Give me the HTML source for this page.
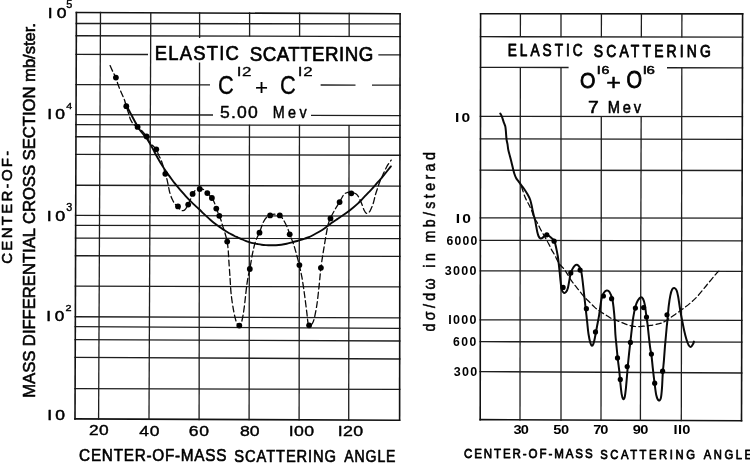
<!DOCTYPE html>
<html><head><meta charset="utf-8"><style>
html,body{margin:0;padding:0;background:#fff;width:750px;height:464px;overflow:hidden;font-family:"Liberation Sans",sans-serif}
svg{display:block;will-change:transform}
</style></head><body>
<svg width="750" height="464" viewBox="0 0 750 464">
<rect width="750" height="464" fill="#fff"/>
<line x1="75.60" y1="12.44" x2="400.90" y2="13.78" stroke="#121212" stroke-width="1.6"/>
<line x1="75.56" y1="23.48" x2="400.89" y2="23.93" stroke="#1e1e1e" stroke-width="1.3"/>
<line x1="75.52" y1="35.77" x2="400.87" y2="36.55" stroke="#1e1e1e" stroke-width="1.3"/>
<line x1="75.46" y1="54.38" x2="148.00" y2="54.50" stroke="#1e1e1e" stroke-width="1.3"/>
<line x1="378.30" y1="54.89" x2="400.85" y2="54.93" stroke="#1e1e1e" stroke-width="1.3"/>
<line x1="75.35" y1="84.68" x2="210.00" y2="84.86" stroke="#1e1e1e" stroke-width="1.3"/>
<line x1="320.60" y1="85.02" x2="355.50" y2="85.06" stroke="#1e1e1e" stroke-width="1.3"/>
<line x1="372.00" y1="85.09" x2="400.81" y2="85.13" stroke="#1e1e1e" stroke-width="1.3"/>
<line x1="75.25" y1="114.55" x2="213.00" y2="114.98" stroke="#1e1e1e" stroke-width="1.3"/>
<line x1="311.00" y1="115.28" x2="400.77" y2="115.56" stroke="#1e1e1e" stroke-width="1.3"/>
<line x1="75.21" y1="124.56" x2="400.76" y2="125.45" stroke="#1e1e1e" stroke-width="1.3"/>
<line x1="75.17" y1="136.77" x2="400.75" y2="137.44" stroke="#1e1e1e" stroke-width="1.3"/>
<line x1="75.11" y1="154.36" x2="400.72" y2="155.25" stroke="#1e1e1e" stroke-width="1.3"/>
<line x1="75.00" y1="185.26" x2="400.69" y2="186.15" stroke="#1e1e1e" stroke-width="1.3"/>
<line x1="74.90" y1="215.47" x2="400.65" y2="216.03" stroke="#1e1e1e" stroke-width="1.3"/>
<line x1="74.87" y1="225.38" x2="400.64" y2="225.72" stroke="#1e1e1e" stroke-width="1.3"/>
<line x1="74.82" y1="238.18" x2="400.62" y2="238.52" stroke="#1e1e1e" stroke-width="1.3"/>
<line x1="74.76" y1="255.77" x2="400.60" y2="256.33" stroke="#1e1e1e" stroke-width="1.3"/>
<line x1="74.66" y1="286.17" x2="400.56" y2="286.84" stroke="#1e1e1e" stroke-width="1.3"/>
<line x1="74.55" y1="316.74" x2="400.52" y2="317.97" stroke="#1e1e1e" stroke-width="1.3"/>
<line x1="74.52" y1="326.72" x2="400.51" y2="328.40" stroke="#1e1e1e" stroke-width="1.3"/>
<line x1="74.47" y1="339.53" x2="400.50" y2="340.98" stroke="#1e1e1e" stroke-width="1.3"/>
<line x1="74.41" y1="357.32" x2="400.47" y2="358.99" stroke="#1e1e1e" stroke-width="1.3"/>
<line x1="74.30" y1="388.56" x2="400.44" y2="389.45" stroke="#1e1e1e" stroke-width="1.3"/>
<line x1="74.20" y1="418.84" x2="400.40" y2="420.18" stroke="#121212" stroke-width="1.6"/>
<line x1="76.40" y1="11.64" x2="75.00" y2="419.64" stroke="#121212" stroke-width="1.6"/>
<line x1="100.50" y1="11.74" x2="98.59" y2="419.74" stroke="#1e1e1e" stroke-width="1.3"/>
<line x1="150.80" y1="11.95" x2="148.99" y2="419.94" stroke="#1e1e1e" stroke-width="1.3"/>
<line x1="400.10" y1="12.97" x2="399.60" y2="420.97" stroke="#121212" stroke-width="1.6"/>
<line x1="199.60" y1="12.15" x2="199.57" y2="38.06" stroke="#1e1e1e" stroke-width="1.3"/>
<line x1="199.54" y1="62.50" x2="199.10" y2="420.15" stroke="#1e1e1e" stroke-width="1.3"/>
<line x1="249.60" y1="12.36" x2="249.57" y2="36.48" stroke="#1e1e1e" stroke-width="1.3"/>
<line x1="249.46" y1="124.74" x2="249.10" y2="420.35" stroke="#1e1e1e" stroke-width="1.3"/>
<line x1="299.60" y1="12.56" x2="299.57" y2="36.60" stroke="#1e1e1e" stroke-width="1.3"/>
<line x1="299.46" y1="124.87" x2="299.10" y2="420.56" stroke="#1e1e1e" stroke-width="1.3"/>
<line x1="349.20" y1="12.77" x2="349.17" y2="36.72" stroke="#1e1e1e" stroke-width="1.3"/>
<line x1="349.06" y1="125.01" x2="348.70" y2="420.76" stroke="#1e1e1e" stroke-width="1.3"/>
<line x1="479.80" y1="13.70" x2="743.40" y2="13.90" stroke="#121212" stroke-width="1.6"/>
<line x1="479.78" y1="36.70" x2="743.34" y2="37.20" stroke="#1e1e1e" stroke-width="1.3"/>
<line x1="479.75" y1="67.30" x2="568.60" y2="67.50" stroke="#1e1e1e" stroke-width="1.3"/>
<line x1="667.00" y1="67.73" x2="743.25" y2="67.90" stroke="#1e1e1e" stroke-width="1.3"/>
<line x1="479.70" y1="116.30" x2="743.12" y2="116.70" stroke="#1e1e1e" stroke-width="1.3"/>
<line x1="479.68" y1="138.90" x2="743.06" y2="139.30" stroke="#1e1e1e" stroke-width="1.3"/>
<line x1="479.65" y1="170.20" x2="742.98" y2="170.50" stroke="#1e1e1e" stroke-width="1.3"/>
<line x1="479.60" y1="217.80" x2="742.85" y2="218.10" stroke="#1e1e1e" stroke-width="1.3"/>
<line x1="479.58" y1="240.40" x2="742.78" y2="240.80" stroke="#1e1e1e" stroke-width="1.3"/>
<line x1="479.55" y1="270.90" x2="742.70" y2="271.30" stroke="#1e1e1e" stroke-width="1.3"/>
<line x1="479.50" y1="319.80" x2="742.57" y2="320.30" stroke="#1e1e1e" stroke-width="1.3"/>
<line x1="479.48" y1="341.70" x2="742.51" y2="342.20" stroke="#1e1e1e" stroke-width="1.3"/>
<line x1="479.45" y1="371.59" x2="742.43" y2="373.00" stroke="#1e1e1e" stroke-width="1.3"/>
<line x1="479.40" y1="419.59" x2="742.30" y2="420.70" stroke="#121212" stroke-width="1.6"/>
<line x1="480.60" y1="12.90" x2="480.20" y2="420.40" stroke="#121212" stroke-width="1.6"/>
<line x1="742.60" y1="13.10" x2="741.50" y2="421.50" stroke="#121212" stroke-width="1.6"/>
<line x1="520.40" y1="12.93" x2="520.38" y2="37.08" stroke="#1e1e1e" stroke-width="1.3"/>
<line x1="520.35" y1="67.09" x2="520.00" y2="420.56" stroke="#1e1e1e" stroke-width="1.3"/>
<line x1="561.00" y1="12.96" x2="561.00" y2="37.15" stroke="#1e1e1e" stroke-width="1.3"/>
<line x1="561.00" y1="67.18" x2="561.00" y2="420.74" stroke="#1e1e1e" stroke-width="1.3"/>
<line x1="681.90" y1="13.05" x2="681.86" y2="37.38" stroke="#1e1e1e" stroke-width="1.3"/>
<line x1="681.82" y1="67.46" x2="681.30" y2="421.24" stroke="#1e1e1e" stroke-width="1.3"/>
<line x1="601.40" y1="12.99" x2="601.38" y2="37.23" stroke="#1e1e1e" stroke-width="1.3"/>
<line x1="601.30" y1="116.18" x2="601.00" y2="420.91" stroke="#1e1e1e" stroke-width="1.3"/>
<line x1="641.40" y1="13.02" x2="641.34" y2="37.31" stroke="#1e1e1e" stroke-width="1.3"/>
<line x1="641.15" y1="116.25" x2="640.40" y2="421.07" stroke="#1e1e1e" stroke-width="1.3"/>
<path d="M126.00,104.50 C126.42,105.33 127.50,107.58 128.50,109.50 C129.50,111.42 130.92,113.95 132.00,116.00 C133.08,118.05 134.07,120.08 135.00,121.80 C135.93,123.52 136.88,125.05 137.60,126.30 C138.32,127.55 138.30,127.90 139.30,129.30 C140.30,130.70 142.38,133.20 143.60,134.70 C144.82,136.20 145.58,136.87 146.60,138.30 C147.62,139.73 148.77,141.75 149.70,143.30 C150.63,144.85 151.38,146.12 152.20,147.60 C153.02,149.08 153.77,150.63 154.60,152.20 C155.43,153.77 156.20,155.20 157.20,157.00 C158.20,158.80 159.45,161.10 160.60,163.00 C161.75,164.90 162.95,166.63 164.10,168.40 C165.25,170.17 166.35,171.95 167.50,173.60 C168.65,175.25 169.85,176.75 171.00,178.30 C172.15,179.85 173.25,181.42 174.40,182.90 C175.55,184.38 176.75,185.82 177.90,187.20 C179.05,188.58 180.12,189.85 181.30,191.20 C182.48,192.55 183.72,193.90 185.00,195.30 C186.28,196.70 187.67,198.22 189.00,199.60 C190.33,200.98 191.75,202.38 193.00,203.60 C194.25,204.82 195.33,205.83 196.50,206.90 C197.67,207.97 198.85,208.92 200.00,210.00 C201.15,211.08 202.25,212.30 203.40,213.40 C204.55,214.50 205.75,215.55 206.90,216.60 C208.05,217.65 209.15,218.68 210.30,219.70 C211.45,220.72 212.65,221.77 213.80,222.70 C214.95,223.63 216.05,224.47 217.20,225.30 C218.35,226.13 219.55,226.92 220.70,227.70 C221.85,228.48 222.95,229.25 224.10,230.00 C225.25,230.75 226.45,231.52 227.60,232.20 C228.75,232.88 229.85,233.47 231.00,234.10 C232.15,234.73 233.35,235.43 234.50,236.00 C235.65,236.57 236.58,236.92 237.90,237.50 C239.22,238.08 241.12,238.95 242.40,239.50 C243.68,240.05 244.45,240.37 245.60,240.80 C246.75,241.23 248.05,241.70 249.30,242.10 C250.55,242.50 251.77,242.88 253.10,243.20 C254.43,243.52 255.88,243.75 257.30,244.00 C258.72,244.25 260.17,244.52 261.60,244.70 C263.03,244.88 264.48,245.00 265.90,245.10 C267.32,245.20 268.42,245.28 270.10,245.30 C271.78,245.32 274.13,245.30 276.00,245.20 C277.87,245.10 279.52,244.95 281.30,244.70 C283.08,244.45 284.92,244.10 286.70,243.70 C288.48,243.30 290.23,242.75 292.00,242.30 C293.77,241.85 295.52,241.50 297.30,241.00 C299.08,240.50 300.92,239.88 302.70,239.30 C304.48,238.72 306.23,238.22 308.00,237.50 C309.77,236.78 311.52,235.92 313.30,235.00 C315.08,234.08 316.92,233.05 318.70,232.00 C320.48,230.95 322.37,229.82 324.00,228.70 C325.63,227.58 327.27,226.23 328.50,225.30 C329.73,224.37 330.02,224.08 331.40,223.10 C332.78,222.12 335.00,220.62 336.80,219.40 C338.60,218.18 340.40,217.03 342.20,215.80 C344.00,214.57 345.80,213.35 347.60,212.00 C349.40,210.65 351.22,209.18 353.00,207.70 C354.78,206.22 356.80,204.50 358.30,203.10 C359.80,201.70 360.97,200.37 362.00,199.30 C363.03,198.23 363.37,197.88 364.50,196.70 C365.63,195.52 367.37,193.72 368.80,192.20 C370.23,190.68 371.67,189.18 373.10,187.60 C374.53,186.02 375.97,184.32 377.40,182.70 C378.83,181.08 380.27,179.60 381.70,177.90 C383.13,176.20 384.57,174.30 386.00,172.50 C387.43,170.70 389.48,168.12 390.30,167.10 C391.12,166.08 390.80,166.52 390.90,166.40" fill="none" stroke="#0a0a0a" stroke-width="1.9" stroke-linecap="round" stroke-linejoin="round"/>
<path d="M110.10,65.60 C110.57,66.63 111.93,69.80 112.90,71.80 C113.87,73.80 115.03,75.43 115.90,77.60 C116.77,79.77 117.30,82.53 118.10,84.80 C118.90,87.07 119.88,89.27 120.70,91.20 C121.52,93.13 122.35,94.88 123.00,96.40 C123.65,97.92 124.05,98.65 124.60,100.30 C125.15,101.95 125.63,104.12 126.30,106.30 C126.97,108.48 127.90,111.20 128.60,113.40 C129.30,115.60 129.68,117.70 130.50,119.50 C131.32,121.30 132.32,122.97 133.50,124.20 C134.68,125.43 136.10,125.68 137.60,126.90 C139.10,128.12 141.00,129.92 142.50,131.50 C144.00,133.08 145.55,134.82 146.60,136.40 C147.65,137.98 147.87,139.57 148.80,141.00 C149.73,142.43 150.95,143.62 152.20,145.00 C153.45,146.38 155.22,147.58 156.30,149.30 C157.38,151.02 157.93,153.60 158.70,155.30 C159.47,157.00 160.22,157.88 160.90,159.50 C161.58,161.12 162.07,162.60 162.80,165.00 C163.53,167.40 164.63,171.65 165.30,173.90 C165.97,176.15 166.30,176.57 166.80,178.50 C167.30,180.43 167.82,183.20 168.30,185.50 C168.78,187.80 169.07,190.03 169.70,192.30 C170.33,194.57 171.22,197.15 172.10,199.10 C172.98,201.05 174.02,202.72 175.00,204.00 C175.98,205.28 177.10,205.83 178.00,206.80 C178.90,207.77 179.52,209.17 180.40,209.80 C181.28,210.43 182.42,210.77 183.30,210.60 C184.18,210.43 184.88,209.82 185.70,208.80 C186.52,207.78 187.38,206.12 188.20,204.50 C189.02,202.88 189.88,200.85 190.60,199.10 C191.32,197.35 191.70,195.45 192.50,194.00 C193.30,192.55 194.22,191.27 195.40,190.40 C196.58,189.53 198.25,188.95 199.60,188.80 C200.95,188.65 202.22,188.78 203.50,189.50 C204.78,190.22 205.90,191.68 207.30,193.10 C208.70,194.52 210.70,196.35 211.90,198.00 C213.10,199.65 213.77,201.23 214.50,203.00 C215.23,204.77 215.50,206.47 216.30,208.60 C217.10,210.73 218.50,213.82 219.30,215.80 C220.10,217.78 220.55,218.85 221.10,220.50 C221.65,222.15 222.02,223.83 222.60,225.70 C223.18,227.57 224.07,229.98 224.60,231.70 C225.13,233.42 225.37,234.35 225.80,236.00 C226.23,237.65 226.80,239.27 227.20,241.60 C227.60,243.93 227.93,246.93 228.20,250.00 C228.47,253.07 228.50,255.47 228.80,260.00 C229.10,264.53 229.60,271.45 230.00,277.20 C230.40,282.95 230.57,288.75 231.20,294.50 C231.83,300.25 232.93,307.10 233.80,311.70 C234.67,316.30 235.48,319.72 236.40,322.10 C237.32,324.48 238.43,326.00 239.30,326.00 C240.17,326.00 240.80,325.05 241.60,322.10 C242.40,319.15 243.25,314.33 244.10,308.30 C244.95,302.27 245.98,291.37 246.70,285.90 C247.42,280.43 247.88,278.32 248.40,275.50 C248.92,272.68 249.10,272.72 249.80,269.00 C250.50,265.28 251.65,257.78 252.60,253.20 C253.55,248.62 254.37,244.93 255.50,241.50 C256.63,238.07 258.10,235.82 259.40,232.60 C260.70,229.38 262.00,224.85 263.30,222.20 C264.60,219.55 266.07,217.87 267.20,216.70 C268.33,215.53 268.82,215.62 270.10,215.20 C271.38,214.78 273.28,214.20 274.90,214.20 C276.52,214.20 278.35,214.20 279.80,215.20 C281.25,216.20 282.32,218.07 283.60,220.20 C284.88,222.33 286.48,225.65 287.50,228.00 C288.52,230.35 288.73,231.72 289.70,234.30 C290.67,236.88 292.22,240.35 293.30,243.50 C294.38,246.65 295.20,249.58 296.20,253.20 C297.20,256.82 298.35,261.20 299.30,265.20 C300.25,269.20 301.03,272.32 301.90,277.20 C302.77,282.08 303.70,288.75 304.50,294.50 C305.30,300.25 306.13,307.10 306.70,311.70 C307.27,316.30 307.50,319.78 307.90,322.10 C308.30,324.42 308.23,325.60 309.10,325.60 C309.97,325.60 311.85,325.27 313.10,322.10 C314.35,318.93 315.60,312.63 316.60,306.60 C317.60,300.57 318.38,292.37 319.10,285.90 C319.82,279.43 320.18,273.58 320.90,267.80 C321.62,262.02 322.50,256.87 323.40,251.20 C324.30,245.53 325.50,238.30 326.30,233.80 C327.10,229.30 327.53,226.78 328.20,224.20 C328.87,221.62 329.13,220.82 330.30,218.30 C331.47,215.78 333.67,211.80 335.20,209.10 C336.73,206.40 338.07,204.52 339.50,202.10 C340.93,199.68 342.45,196.22 343.80,194.60 C345.15,192.98 346.35,192.78 347.60,192.40 C348.85,192.02 349.87,192.03 351.30,192.30 C352.73,192.57 354.85,193.00 356.20,194.00 C357.55,195.00 358.42,196.50 359.40,198.30 C360.38,200.10 361.33,202.85 362.10,204.80 C362.87,206.75 363.30,208.60 364.00,210.00 C364.70,211.40 365.55,212.77 366.30,213.20 C367.05,213.63 367.83,213.05 368.50,212.60 C369.17,212.15 369.52,212.02 370.30,210.50 C371.08,208.98 372.33,206.17 373.20,203.50 C374.07,200.83 374.73,197.17 375.50,194.50 C376.27,191.83 377.13,189.50 377.80,187.50 C378.47,185.50 378.88,184.08 379.50,182.50 C380.12,180.92 380.77,179.67 381.50,178.00 C382.23,176.33 383.05,174.33 383.90,172.50 C384.75,170.67 385.70,168.62 386.60,167.00 C387.50,165.38 388.53,163.95 389.30,162.80 C390.07,161.65 390.88,160.55 391.20,160.10" fill="none" stroke="#0a0a0a" stroke-width="1.3" stroke-linecap="round" stroke-linejoin="round" stroke-dasharray="6,3.2"/>
<circle cx="115.9" cy="77.6" r="2.9" fill="#000"/>
<circle cx="126.3" cy="106.2" r="2.9" fill="#000"/>
<circle cx="137.6" cy="126.9" r="2.9" fill="#000"/>
<circle cx="146.6" cy="136.4" r="2.9" fill="#000"/>
<circle cx="156.3" cy="149.3" r="2.9" fill="#000"/>
<circle cx="165.3" cy="173.8" r="2.9" fill="#000"/>
<circle cx="178.0" cy="206.4" r="2.9" fill="#000"/>
<circle cx="188.2" cy="204.6" r="2.9" fill="#000"/>
<circle cx="192.6" cy="193.9" r="2.9" fill="#000"/>
<circle cx="199.7" cy="189.0" r="2.9" fill="#000"/>
<circle cx="207.3" cy="193.1" r="2.9" fill="#000"/>
<circle cx="211.9" cy="198.0" r="2.9" fill="#000"/>
<circle cx="216.3" cy="208.6" r="2.9" fill="#000"/>
<circle cx="219.3" cy="215.8" r="2.9" fill="#000"/>
<circle cx="227.2" cy="241.6" r="2.9" fill="#000"/>
<circle cx="239.3" cy="325.6" r="2.9" fill="#000"/>
<circle cx="249.8" cy="269.0" r="2.9" fill="#000"/>
<circle cx="259.5" cy="232.7" r="2.9" fill="#000"/>
<circle cx="270.1" cy="215.4" r="2.9" fill="#000"/>
<circle cx="279.8" cy="215.4" r="2.9" fill="#000"/>
<circle cx="289.7" cy="234.3" r="2.9" fill="#000"/>
<circle cx="299.4" cy="265.1" r="2.9" fill="#000"/>
<circle cx="309.1" cy="325.3" r="2.9" fill="#000"/>
<circle cx="320.9" cy="267.8" r="2.9" fill="#000"/>
<circle cx="330.5" cy="218.4" r="2.9" fill="#000"/>
<circle cx="339.6" cy="202.1" r="2.9" fill="#000"/>
<circle cx="351.3" cy="193.3" r="2.9" fill="#000"/>
<path d="M500.30,113.60 C500.57,114.10 501.35,115.23 501.90,116.60 C502.45,117.97 503.05,120.22 503.60,121.80 C504.15,123.38 504.83,124.67 505.20,126.10 C505.57,127.53 505.63,128.82 505.80,130.40 C505.97,131.98 506.07,134.02 506.20,135.60 C506.33,137.18 506.38,138.47 506.60,139.90 C506.82,141.33 507.22,142.53 507.50,144.20 C507.78,145.87 507.92,147.98 508.30,149.90 C508.68,151.82 509.30,153.77 509.80,155.70 C510.30,157.63 510.82,159.57 511.30,161.50 C511.78,163.43 512.22,165.35 512.70,167.30 C513.18,169.25 513.63,171.42 514.20,173.20 C514.77,174.98 515.38,176.63 516.10,178.00 C516.82,179.37 517.68,180.27 518.50,181.40 C519.32,182.53 520.08,183.57 521.00,184.80 C521.92,186.03 522.97,187.30 524.00,188.80 C525.03,190.30 526.18,192.02 527.20,193.80 C528.22,195.58 529.37,197.58 530.10,199.50 C530.83,201.42 531.18,203.52 531.60,205.30 C532.02,207.08 532.25,208.58 532.60,210.20 C532.95,211.82 533.30,213.38 533.70,215.00 C534.10,216.62 534.62,218.23 535.00,219.90 C535.38,221.57 535.62,222.98 536.00,225.00 C536.38,227.02 536.87,230.13 537.30,232.00 C537.73,233.87 538.10,235.15 538.60,236.20 C539.10,237.25 539.65,238.02 540.30,238.30 C540.95,238.58 541.78,238.32 542.50,237.90 C543.22,237.48 543.88,236.37 544.60,235.80 C545.32,235.23 546.00,234.43 546.80,234.50 C547.60,234.57 548.53,235.55 549.40,236.20 C550.27,236.85 551.22,237.68 552.00,238.40 C552.78,239.12 553.53,239.50 554.10,240.50 C554.67,241.50 554.97,242.75 555.40,244.40 C555.83,246.05 556.27,248.22 556.70,250.40 C557.13,252.58 557.63,255.03 558.00,257.50 C558.37,259.97 558.60,262.55 558.90,265.20 C559.20,267.85 559.50,270.53 559.80,273.40 C560.10,276.27 560.38,279.68 560.70,282.40 C561.02,285.12 561.17,287.97 561.70,289.70 C562.23,291.43 563.17,292.43 563.90,292.80 C564.63,293.17 565.43,292.72 566.10,291.90 C566.77,291.08 567.37,289.78 567.90,287.90 C568.43,286.02 568.85,282.95 569.30,280.60 C569.75,278.25 570.07,275.75 570.60,273.80 C571.13,271.85 571.82,270.25 572.50,268.90 C573.18,267.55 573.95,266.38 574.70,265.70 C575.45,265.02 576.25,264.65 577.00,264.80 C577.75,264.95 578.52,265.62 579.20,266.60 C579.88,267.58 580.63,269.12 581.10,270.70 C581.57,272.28 581.70,274.00 582.00,276.10 C582.30,278.20 582.52,279.95 582.90,283.30 C583.28,286.65 583.83,291.95 584.30,296.20 C584.77,300.45 585.23,304.60 585.70,308.80 C586.17,313.00 586.63,317.20 587.10,321.40 C587.57,325.60 587.95,330.40 588.50,334.00 C589.05,337.60 589.82,341.03 590.40,343.00 C590.98,344.97 591.50,345.67 592.00,345.80 C592.50,345.93 592.93,345.07 593.40,343.80 C593.87,342.53 594.22,341.00 594.80,338.20 C595.38,335.40 596.20,330.73 596.90,327.00 C597.60,323.27 598.42,319.30 599.00,315.80 C599.58,312.30 599.93,309.03 600.40,306.00 C600.87,302.97 601.22,299.82 601.80,297.60 C602.38,295.38 603.08,293.87 603.90,292.70 C604.72,291.53 605.77,290.72 606.70,290.60 C607.63,290.48 608.57,290.60 609.50,292.00 C610.43,293.40 611.60,296.20 612.30,299.00 C613.00,301.80 613.30,305.30 613.70,308.80 C614.10,312.30 614.42,315.72 614.70,320.00 C614.98,324.28 615.08,330.00 615.40,334.50 C615.72,339.00 616.20,342.90 616.60,347.00 C617.00,351.10 617.35,355.07 617.80,359.10 C618.25,363.13 618.87,367.17 619.30,371.20 C619.73,375.23 620.02,379.53 620.40,383.30 C620.78,387.07 621.15,391.20 621.60,393.80 C622.05,396.40 622.60,398.27 623.10,398.90 C623.60,399.53 624.15,399.20 624.60,397.60 C625.05,396.00 625.42,392.70 625.80,389.30 C626.18,385.90 626.55,381.22 626.90,377.20 C627.25,373.18 627.53,369.22 627.90,365.20 C628.27,361.18 628.70,356.87 629.10,353.10 C629.50,349.33 629.85,346.58 630.30,342.60 C630.75,338.62 631.30,333.45 631.80,329.20 C632.30,324.95 632.68,320.87 633.30,317.10 C633.92,313.33 634.75,309.35 635.50,306.60 C636.25,303.85 636.92,302.17 637.80,300.60 C638.68,299.03 639.92,297.47 640.80,297.20 C641.68,296.93 642.42,297.68 643.10,299.00 C643.78,300.32 644.40,302.58 644.90,305.10 C645.40,307.62 645.65,310.83 646.10,314.10 C646.55,317.37 647.15,321.05 647.60,324.70 C648.05,328.35 648.37,332.12 648.80,336.00 C649.23,339.88 649.75,344.75 650.20,348.00 C650.65,351.25 651.07,352.13 651.50,355.50 C651.93,358.87 652.32,363.82 652.80,368.20 C653.28,372.58 653.82,377.28 654.40,381.80 C654.98,386.32 655.60,392.20 656.30,395.30 C657.00,398.40 657.85,399.90 658.60,400.40 C659.35,400.90 660.23,400.40 660.80,398.30 C661.37,396.20 661.67,392.07 662.00,387.80 C662.33,383.53 662.48,377.23 662.80,372.70 C663.12,368.17 663.55,364.87 663.90,360.60 C664.25,356.33 664.55,351.37 664.90,347.10 C665.25,342.83 665.68,338.52 666.00,335.00 C666.32,331.48 666.55,328.55 666.80,326.00 C667.05,323.45 667.18,323.02 667.50,319.70 C667.82,316.38 668.23,310.12 668.70,306.10 C669.17,302.08 669.73,298.37 670.30,295.60 C670.87,292.83 671.43,290.77 672.10,289.50 C672.77,288.23 673.55,287.87 674.30,288.00 C675.05,288.13 675.97,288.92 676.60,290.30 C677.23,291.68 677.60,293.67 678.10,296.30 C678.60,298.93 679.10,302.95 679.60,306.10 C680.10,309.25 680.60,312.43 681.10,315.20 C681.60,317.97 682.10,320.18 682.60,322.70 C683.10,325.22 683.47,327.53 684.10,330.30 C684.73,333.07 685.63,336.80 686.40,339.30 C687.17,341.80 687.95,344.03 688.70,345.30 C689.45,346.57 690.15,347.15 690.90,346.90 C691.65,346.65 692.70,344.68 693.20,343.80 C693.70,342.92 693.78,341.97 693.90,341.60" fill="none" stroke="#0a0a0a" stroke-width="2.0" stroke-linecap="round" stroke-linejoin="round"/>
<path d="M521.50,186.50 C522.05,188.18 523.77,193.95 524.80,196.60 C525.83,199.25 526.88,200.78 527.70,202.40 C528.52,204.02 528.98,204.78 529.70,206.30 C530.42,207.82 531.28,209.65 532.00,211.50 C532.72,213.35 533.18,215.65 534.00,217.40 C534.82,219.15 535.98,220.37 536.90,222.00 C537.82,223.63 538.57,225.40 539.50,227.20 C540.43,229.00 541.43,230.87 542.50,232.80 C543.57,234.73 544.82,236.87 545.90,238.80 C546.98,240.73 548.07,242.60 549.00,244.40 C549.93,246.20 550.57,247.87 551.50,249.60 C552.43,251.33 553.73,253.22 554.60,254.80 C555.47,256.38 556.05,257.82 556.70,259.10 C557.35,260.38 557.83,261.43 558.50,262.50 C559.17,263.57 559.80,264.43 560.70,265.50 C561.60,266.57 562.92,267.67 563.90,268.90 C564.88,270.13 565.40,271.02 566.60,272.90 C567.80,274.78 569.75,278.17 571.10,280.20 C572.45,282.23 573.35,283.37 574.70,285.10 C576.05,286.83 577.72,288.75 579.20,290.60 C580.68,292.45 581.93,294.33 583.60,296.20 C585.27,298.07 587.33,299.93 589.20,301.80 C591.07,303.67 592.93,305.77 594.80,307.40 C596.67,309.03 598.53,310.32 600.40,311.60 C602.27,312.88 604.13,313.93 606.00,315.10 C607.87,316.27 609.97,317.75 611.60,318.60 C613.23,319.45 614.08,319.53 615.80,320.20 C617.52,320.87 619.87,321.80 621.90,322.60 C623.93,323.40 625.73,324.35 628.00,325.00 C630.27,325.65 632.98,326.30 635.50,326.50 C638.02,326.70 640.58,326.38 643.10,326.20 C645.62,326.02 648.08,325.78 650.60,325.40 C653.12,325.02 656.30,324.33 658.20,323.90 C660.10,323.47 660.45,323.50 662.00,322.80 C663.55,322.10 665.32,321.10 667.50,319.70 C669.68,318.30 672.58,316.17 675.10,314.40 C677.62,312.63 680.08,310.98 682.60,309.10 C685.12,307.22 687.72,305.25 690.20,303.10 C692.68,300.95 694.67,299.30 697.50,296.20 C700.33,293.10 703.97,288.38 707.20,284.50 C710.43,280.62 714.97,275.12 716.90,272.90 C718.83,270.68 718.48,271.48 718.80,271.20" fill="none" stroke="#0a0a0a" stroke-width="1.25" stroke-linecap="round" stroke-linejoin="round" stroke-dasharray="5.5,3.2"/>
<circle cx="546.8" cy="234.8" r="2.6" fill="#000"/>
<circle cx="554.1" cy="241.2" r="2.6" fill="#000"/>
<circle cx="563.1" cy="287.4" r="2.6" fill="#000"/>
<circle cx="570.8" cy="272.9" r="2.6" fill="#000"/>
<circle cx="580.1" cy="270.1" r="2.6" fill="#000"/>
<circle cx="586.4" cy="308.7" r="2.6" fill="#000"/>
<circle cx="595.5" cy="331.9" r="2.6" fill="#000"/>
<circle cx="603.4" cy="296.0" r="2.6" fill="#000"/>
<circle cx="611.6" cy="298.7" r="2.6" fill="#000"/>
<circle cx="617.5" cy="357.9" r="2.6" fill="#000"/>
<circle cx="620.3" cy="379.4" r="2.6" fill="#000"/>
<circle cx="627.2" cy="366.6" r="2.6" fill="#000"/>
<circle cx="630.4" cy="342.4" r="2.6" fill="#000"/>
<circle cx="635.4" cy="308.1" r="2.6" fill="#000"/>
<circle cx="643.6" cy="307.6" r="2.6" fill="#000"/>
<circle cx="646.5" cy="317.1" r="2.6" fill="#000"/>
<circle cx="651.4" cy="354.1" r="2.6" fill="#000"/>
<circle cx="654.7" cy="383.2" r="2.6" fill="#000"/>
<circle cx="662.6" cy="371.2" r="2.6" fill="#000"/>
<circle cx="667.0" cy="314.8" r="2.6" fill="#000"/>
<text x="0" y="0" font-family="Liberation Sans" font-size="14.588" font-weight="normal" stroke="#000" stroke-width="0.55" stroke-linejoin="round" vector-effect="non-scaling-stroke" textLength="15.640" lengthAdjust="spacing" transform="translate(47.750,17.500) scale(1.2000,1)" fill="#000">I0</text>
<text x="0" y="0" font-family="Liberation Sans" font-size="10.081" font-weight="normal" stroke="#000" stroke-width="0.4" stroke-linejoin="round" vector-effect="non-scaling-stroke" transform="translate(66.250,7.850) scale(1.0825,1)" fill="#000">5</text>
<text x="0" y="0" font-family="Liberation Sans" font-size="14.587" font-weight="normal" stroke="#000" stroke-width="0.55" stroke-linejoin="round" vector-effect="non-scaling-stroke" textLength="14.908" lengthAdjust="spacing" transform="translate(47.150,119.200) scale(1.2000,1)" fill="#000">I0</text>
<text x="0" y="0" font-family="Liberation Sans" font-size="9.045" font-weight="normal" stroke="#000" stroke-width="0.4" stroke-linejoin="round" vector-effect="non-scaling-stroke" transform="translate(66.200,108.500) scale(1.1737,1)" fill="#000">4</text>
<text x="0" y="0" font-family="Liberation Sans" font-size="14.938" font-weight="normal" stroke="#000" stroke-width="0.55" stroke-linejoin="round" vector-effect="non-scaling-stroke" textLength="15.361" lengthAdjust="spacing" transform="translate(46.850,220.750) scale(1.2000,1)" fill="#000">I0</text>
<text x="0" y="0" font-family="Liberation Sans" font-size="10.076" font-weight="normal" stroke="#000" stroke-width="0.4" stroke-linejoin="round" vector-effect="non-scaling-stroke" transform="translate(66.250,211.450) scale(1.0686,1)" fill="#000">3</text>
<text x="0" y="0" font-family="Liberation Sans" font-size="14.244" font-weight="normal" stroke="#000" stroke-width="0.55" stroke-linejoin="round" vector-effect="non-scaling-stroke" textLength="15.051" lengthAdjust="spacing" transform="translate(46.150,321.250) scale(1.2000,1)" fill="#000">I0</text>
<text x="0" y="0" font-family="Liberation Sans" font-size="9.729" font-weight="normal" stroke="#000" stroke-width="0.4" stroke-linejoin="round" vector-effect="non-scaling-stroke" transform="translate(65.550,311.200) scale(1.1149,1)" fill="#000">2</text>
<text x="0" y="0" font-family="Liberation Sans" font-size="14.588" font-weight="normal" stroke="#000" stroke-width="0.55" stroke-linejoin="round" vector-effect="non-scaling-stroke" textLength="14.934" lengthAdjust="spacing" transform="translate(47.150,420.000) scale(1.2000,1)" fill="#000">I0</text>
<text x="0" y="0" font-family="Liberation Sans" font-size="13.887" font-weight="normal" stroke="#000" stroke-width="0.45" stroke-linejoin="round" vector-effect="non-scaling-stroke" textLength="15.727" lengthAdjust="spacing" transform="translate(89.050,435.149) scale(1.2500,1)" fill="#000">20</text>
<text x="0" y="0" font-family="Liberation Sans" font-size="13.957" font-weight="normal" stroke="#000" stroke-width="0.45" stroke-linejoin="round" vector-effect="non-scaling-stroke" textLength="16.249" lengthAdjust="spacing" transform="translate(139.150,435.558) scale(1.2500,1)" fill="#000">40</text>
<text x="0" y="0" font-family="Liberation Sans" font-size="14.028" font-weight="normal" stroke="#000" stroke-width="0.45" stroke-linejoin="round" vector-effect="non-scaling-stroke" textLength="16.263" lengthAdjust="spacing" transform="translate(188.750,435.718) scale(1.2500,1)" fill="#000">60</text>
<text x="0" y="0" font-family="Liberation Sans" font-size="14.104" font-weight="normal" stroke="#000" stroke-width="0.45" stroke-linejoin="round" vector-effect="non-scaling-stroke" textLength="15.799" lengthAdjust="spacing" transform="translate(239.900,435.881) scale(1.2500,1)" fill="#000">80</text>
<text x="0" y="0" font-family="Liberation Sans" font-size="14.168" font-weight="normal" stroke="#000" stroke-width="0.45" stroke-linejoin="round" vector-effect="non-scaling-stroke" textLength="20.307" lengthAdjust="spacing" transform="translate(288.700,436.041) scale(1.2500,1)" fill="#000">I00</text>
<text x="0" y="0" font-family="Liberation Sans" font-size="14.234" font-weight="normal" stroke="#000" stroke-width="0.45" stroke-linejoin="round" vector-effect="non-scaling-stroke" textLength="20.244" lengthAdjust="spacing" transform="translate(337.800,436.198) scale(1.2500,1)" fill="#000">I20</text>
<text x="0" y="0" font-family="Liberation Sans" font-size="17.030" font-weight="normal" stroke="#000" stroke-width="0.6" stroke-linejoin="round" vector-effect="non-scaling-stroke" textLength="163.702" lengthAdjust="spacing" transform="translate(79.100,461.350) scale(0.9000,1)" fill="#000">CENTER-OF-MASS</text>
<text x="0" y="0" font-family="Liberation Sans" font-size="16.349" font-weight="normal" stroke="#000" stroke-width="0.6" stroke-linejoin="round" vector-effect="non-scaling-stroke" textLength="113.039" lengthAdjust="spacing" transform="translate(234.300,461.750) scale(0.9000,1)" fill="#000">SCATTERING</text>
<text x="0" y="0" font-family="Liberation Sans" font-size="15.656" font-weight="normal" stroke="#000" stroke-width="0.6" stroke-linejoin="round" vector-effect="non-scaling-stroke" textLength="56.951" lengthAdjust="spacing" transform="translate(344.250,461.850) scale(0.9000,1)" fill="#000">ANGLE</text>
<text x="0" y="0" font-family="Liberation Sans" font-size="15.297" font-weight="normal" stroke="#000" stroke-width="0.55" stroke-linejoin="round" vector-effect="non-scaling-stroke" textLength="115.337" lengthAdjust="spacing" transform="translate(12.200,263.750) rotate(-90) scale(0.9800,1)" fill="#000">CENTER-OF-</text>
<text x="0" y="0" font-family="Liberation Sans" font-size="17.091" font-weight="normal" stroke="#000" stroke-width="0.55" stroke-linejoin="round" vector-effect="non-scaling-stroke" textLength="382.438" lengthAdjust="spacing" transform="translate(34.950,397.800) rotate(-90) scale(0.9800,1)" fill="#000">MASS DIFFERENTIAL CROSS SECTION mb/ster.</text>
<text x="0" y="0" font-family="Liberation Sans" font-size="19.798" font-weight="normal" stroke="#000" stroke-width="0.65" stroke-linejoin="round" vector-effect="non-scaling-stroke" textLength="90.264" lengthAdjust="spacing" transform="translate(154.850,60.100) scale(0.9300,1)" fill="#000">ELASTIC</text>
<text x="0" y="0" font-family="Liberation Sans" font-size="20.154" font-weight="normal" stroke="#000" stroke-width="0.65" stroke-linejoin="round" vector-effect="non-scaling-stroke" textLength="132.941" lengthAdjust="spacing" transform="translate(249.700,61.100) scale(0.9300,1)" fill="#000">SCATTERING</text>
<text x="0" y="0" font-family="Liberation Sans" font-size="25.010" font-weight="normal" stroke="#000" stroke-width="0.3" stroke-linejoin="round" vector-effect="non-scaling-stroke" transform="translate(218.000,93.500) scale(0.8747,1)" fill="#000">C</text>
<text x="0" y="0" font-family="Liberation Sans" font-size="13.547" font-weight="normal" stroke="#000" stroke-width="0.35" stroke-linejoin="round" vector-effect="non-scaling-stroke" textLength="11.772" lengthAdjust="spacing" transform="translate(236.750,75.500) scale(1.2500,1)" fill="#000">I2</text>
<text x="0" y="0" font-family="Liberation Sans" font-size="22.200" font-weight="normal" stroke="#000" stroke-width="0.15" stroke-linejoin="round" vector-effect="non-scaling-stroke" transform="translate(255.000,95.000) scale(1.0093,1)" fill="#000">+</text>
<text x="0" y="0" font-family="Liberation Sans" font-size="25.010" font-weight="normal" stroke="#000" stroke-width="0.3" stroke-linejoin="round" vector-effect="non-scaling-stroke" transform="translate(280.000,93.500) scale(0.8747,1)" fill="#000">C</text>
<text x="0" y="0" font-family="Liberation Sans" font-size="13.547" font-weight="normal" stroke="#000" stroke-width="0.35" stroke-linejoin="round" vector-effect="non-scaling-stroke" textLength="11.894" lengthAdjust="spacing" transform="translate(297.750,75.500) scale(1.2500,1)" fill="#000">I2</text>
<text x="0" y="0" font-family="Liberation Sans" font-size="15.977" font-weight="normal" stroke="#000" stroke-width="0.45" stroke-linejoin="round" vector-effect="non-scaling-stroke" textLength="34.325" lengthAdjust="spacing" transform="translate(220.000,118.050) scale(1.1000,1)" fill="#000">5.00</text>
<text x="0" y="0" font-family="Liberation Sans" font-size="16.324" font-weight="normal" stroke="#000" stroke-width="0.45" stroke-linejoin="round" vector-effect="non-scaling-stroke" textLength="38.487" lengthAdjust="spacing" transform="translate(272.700,118.300) scale(0.8800,1)" fill="#000">Mev</text>
<text x="0" y="0" font-family="Liberation Sans" font-size="13.551" font-weight="bold" textLength="13.218" lengthAdjust="spacing" transform="translate(454.900,121.600) scale(1.1500,1)" fill="#000">I0</text>
<text x="0" y="0" font-family="Liberation Sans" font-size="13.551" font-weight="bold" textLength="13.218" lengthAdjust="spacing" transform="translate(455.700,223.200) scale(1.1500,1)" fill="#000">I0</text>
<text x="0" y="0" font-family="Liberation Sans" font-size="12.181" font-weight="bold" textLength="30.779" lengthAdjust="spacing" transform="translate(446.500,245.200)" fill="#000">6000</text>
<text x="0" y="0" font-family="Liberation Sans" font-size="12.527" font-weight="bold" textLength="31.900" lengthAdjust="spacing" transform="translate(444.650,275.450)" fill="#000">3000</text>
<text x="0" y="0" font-family="Liberation Sans" font-size="12.514" font-weight="bold" textLength="28.163" lengthAdjust="spacing" transform="translate(448.350,323.750)" fill="#000">I000</text>
<text x="0" y="0" font-family="Liberation Sans" font-size="12.181" font-weight="bold" textLength="23.495" lengthAdjust="spacing" transform="translate(452.900,345.900)" fill="#000">600</text>
<text x="0" y="0" font-family="Liberation Sans" font-size="12.514" font-weight="bold" textLength="23.464" lengthAdjust="spacing" transform="translate(453.650,376.250)" fill="#000">300</text>
<text x="0" y="0" font-family="Liberation Sans" font-size="12.163" font-weight="bold" textLength="12.695" lengthAdjust="spacing" transform="translate(513.550,433.900) scale(1.2000,1)" fill="#000">30</text>
<text x="0" y="0" font-family="Liberation Sans" font-size="12.163" font-weight="bold" textLength="13.195" lengthAdjust="spacing" transform="translate(553.300,433.900) scale(1.2000,1)" fill="#000">50</text>
<text x="0" y="0" font-family="Liberation Sans" font-size="12.163" font-weight="bold" textLength="12.611" lengthAdjust="spacing" transform="translate(593.150,433.900) scale(1.2000,1)" fill="#000">70</text>
<text x="0" y="0" font-family="Liberation Sans" font-size="12.163" font-weight="bold" textLength="13.070" lengthAdjust="spacing" transform="translate(632.700,433.900) scale(1.2000,1)" fill="#000">90</text>
<text x="0" y="0" font-family="Liberation Sans" font-size="12.163" font-weight="bold" textLength="14.082" lengthAdjust="spacing" transform="translate(673.500,433.900) scale(1.2000,1)" fill="#000">II0</text>
<text x="0" y="0" font-family="Liberation Sans" font-size="13.594" font-weight="normal" stroke="#000" stroke-width="0.7" stroke-linejoin="round" vector-effect="non-scaling-stroke" textLength="151.363" lengthAdjust="spacing" transform="translate(463.950,458.250) scale(0.8500,1)" fill="#000">CENTER-OF-MASS</text>
<text x="0" y="0" font-family="Liberation Sans" font-size="13.246" font-weight="normal" stroke="#000" stroke-width="0.7" stroke-linejoin="round" vector-effect="non-scaling-stroke" textLength="111.516" lengthAdjust="spacing" transform="translate(600.150,458.600) scale(0.8500,1)" fill="#000">SCATTERING</text>
<text x="0" y="0" font-family="Liberation Sans" font-size="13.248" font-weight="normal" stroke="#000" stroke-width="0.7" stroke-linejoin="round" vector-effect="non-scaling-stroke" textLength="56.740" lengthAdjust="spacing" transform="translate(703.850,459.400) scale(0.8500,1)" fill="#000">ANGLE</text>
<text x="0" y="0" font-family="Liberation Sans" font-size="16.727" font-weight="normal" stroke="#000" stroke-width="0.45" stroke-linejoin="round" vector-effect="non-scaling-stroke" textLength="210.931" lengthAdjust="spacing" transform="translate(434.750,331.500) rotate(-90) scale(0.8500,1)" fill="#000">dσ/dω in mb/sterad</text>
<text x="0" y="0" font-family="Liberation Sans" font-size="15.656" font-weight="normal" stroke="#000" stroke-width="0.75" stroke-linejoin="round" vector-effect="non-scaling-stroke" textLength="86.257" lengthAdjust="spacing" transform="translate(507.650,56.250) scale(0.8700,1)" fill="#000">ELASTIC</text>
<text x="0" y="0" font-family="Liberation Sans" font-size="16.004" font-weight="normal" stroke="#000" stroke-width="0.75" stroke-linejoin="round" vector-effect="non-scaling-stroke" textLength="134.412" lengthAdjust="spacing" transform="translate(593.850,57.100) scale(0.8700,1)" fill="#000">SCATTERING</text>
<text x="0" y="0" font-family="Liberation Sans" font-size="22.930" font-weight="normal" stroke="#000" stroke-width="0.8" stroke-linejoin="round" vector-effect="non-scaling-stroke" transform="translate(580.100,87.800) scale(0.8620,1)" fill="#000">O</text>
<text x="0" y="0" font-family="Liberation Sans" font-size="10.432" font-weight="normal" stroke="#000" stroke-width="0.6" stroke-linejoin="round" vector-effect="non-scaling-stroke" textLength="9.339" lengthAdjust="spacing" transform="translate(596.800,73.700) scale(1.3500,1)" fill="#000">I6</text>
<text x="0" y="0" font-family="Liberation Sans" font-size="21.977" font-weight="normal" stroke="#000" stroke-width="0.5" stroke-linejoin="round" vector-effect="non-scaling-stroke" transform="translate(606.200,90.200) scale(1.1463,1)" fill="#000">+</text>
<text x="0" y="0" font-family="Liberation Sans" font-size="23.290" font-weight="normal" stroke="#000" stroke-width="0.8" stroke-linejoin="round" vector-effect="non-scaling-stroke" transform="translate(626.400,87.550) scale(0.8583,1)" fill="#000">O</text>
<text x="0" y="0" font-family="Liberation Sans" font-size="11.126" font-weight="normal" stroke="#000" stroke-width="0.6" stroke-linejoin="round" vector-effect="non-scaling-stroke" textLength="8.842" lengthAdjust="spacing" transform="translate(642.800,73.600) scale(1.3500,1)" fill="#000">I6</text>
<text x="0" y="0" font-family="Liberation Sans" font-size="16.322" font-weight="normal" stroke="#000" stroke-width="0.55" stroke-linejoin="round" vector-effect="non-scaling-stroke" transform="translate(588.050,112.800) scale(1.1863,1)" fill="#000">7</text>
<text x="0" y="0" font-family="Liberation Sans" font-size="16.331" font-weight="normal" stroke="#000" stroke-width="0.55" stroke-linejoin="round" vector-effect="non-scaling-stroke" textLength="37.045" lengthAdjust="spacing" transform="translate(607.800,113.400) scale(0.9000,1)" fill="#000">Mev</text>
</svg>
</body></html>
